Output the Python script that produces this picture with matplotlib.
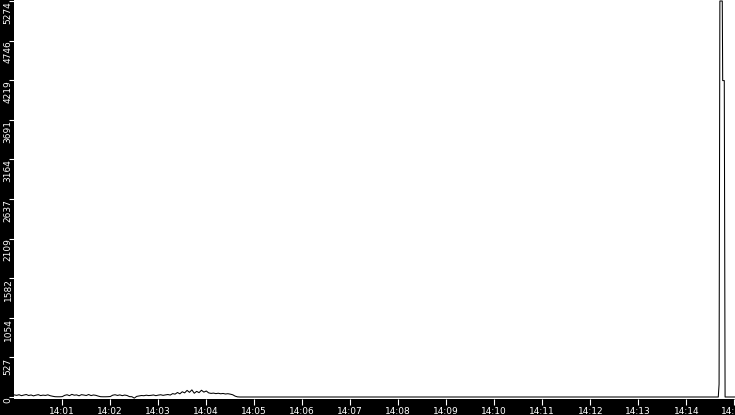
import pandas as pd
import matplotlib
matplotlib.use("Agg")
import matplotlib.pyplot as plt
import matplotlib.dates as mdates

# データ（14:00:00 からの経過秒と値）
early_sec = list(range(0, 285, 3))
early_val = [28, 22, 30, 18, 26, 33, 20, 27, 15, 24, 31, 19, 25, 21, 29, 17, 10,
             4, 3, 3, 5,
             22, 30, 18, 35, 24, 28, 16, 31, 26, 20, 33, 19, 27, 22, 12,
             4, 3, 3, 4, 6,
             24, 30, 21, 28, 18, 26, 20,
             5, 4, -15,
             8, 14, 20, 17, 24, 19, 22, 27, 18, 25, 30, 22, 28, 33, 26,
             45, 38, 60, 42, 70, 55, 88, 62, 95, 50, 75, 58, 90, 65, 80,
             55, 48, 52, 45, 50, 43, 47, 40, 44, 38,
             30, 12, 2, 0]
late_sec = [285, 500, 760, 880, 881, 882, 885, 885.5, 887.5, 888.5, 902]
late_val = [0, 0, 0, 0, 170, 5274, 5274, 4214, 4214, 0, 0]

start = pd.Timestamp("2024-01-01 14:00:00")
secs = early_sec + late_sec
vals = early_val + late_val
times = [start + pd.Timedelta(seconds=s) for s in secs]

ymax = max(vals)
yticks = [ymax * k / 10 for k in range(11)]
ylabels = [str(int(v)) for v in yticks]

fig = plt.figure(figsize=(7.35, 4.15), dpi=100, facecolor="black")
W, H = 735, 415
left, bottom = 14.5 / W, 16 / H
ax = fig.add_axes([left, bottom, 1 - left, 1 - bottom])
ax.set_facecolor("white")

ax.plot(times, vals, color="black", lw=0.75)

px_per_unit = 396 / ymax
ax.set_ylim(-2 / px_per_unit, ymax + 1 / px_per_unit)
ax.set_xlim(start + pd.Timedelta(seconds=0.3), start + pd.Timedelta(seconds=900.9))

ax.set_yticks(yticks)
ax.set_yticklabels(ylabels)
ax.xaxis.set_major_locator(mdates.MinuteLocator())
ax.xaxis.set_major_formatter(mdates.DateFormatter("%H:%M"))

for s in ax.spines.values():
    s.set_visible(False)

ax.tick_params(axis="x", colors="white", labelsize=6.5, length=4.5, width=0.8, pad=1.5)
ax.tick_params(axis="y", colors="white", labelsize=6.5, length=3.5, width=0.8, pad=1.0,
               labelrotation=90)
for lbl in ax.get_yticklabels():
    lbl.set_va("top")
    lbl.set_ha("center")

fig.savefig("out.png", dpi=100, facecolor="black")
